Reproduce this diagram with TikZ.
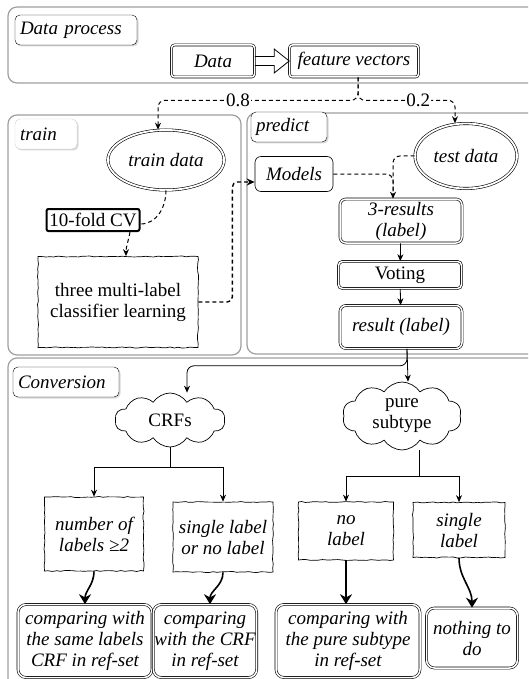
\documentclass[tikz,border=0pt]{standalone}
\usepackage{fontspec}
\setmainfont{Liberation Serif}
\usetikzlibrary{arrows.meta,shapes.geometric,shapes.symbols,shadows,decorations.pathmorphing}
\newcommand{\bigfont}{\fontsize{19}{21}\selectfont}

\begin{document}
\begin{tikzpicture}[x=1pt,y=-1pt,font=\bigfont,
	frame/.style = {draw=gray!75, line width=1.2pt, rounded corners=9pt, fill=white},
	tag/.style = {draw, rounded corners=5pt, fill=white, drop shadow={shadow xshift=1.5pt,shadow yshift=-1.5pt,opacity=.3}, font=\bigfont\itshape, align=left, inner xsep=5pt, minimum height=30pt},
	dbox/.style = {draw, double, double distance=1.5pt, line width=.6pt, rounded corners=6pt, align=center, inner sep=1pt},
	dell/.style = {draw, ellipse, double, double distance=1.8pt, line width=.6pt, font=\bigfont\itshape},
	sketch/.style = {draw, line width=.7pt, decorate, decoration={random steps, segment length=4pt, amplitude=.5pt}, align=center, inner sep=1pt},
	cld/.style = {draw, cloud, cloud puffs=10, cloud puff arc=115, aspect=2, line width=.7pt, align=center, inner sep=0pt},
	it/.style = {font=\bigfont\itshape},
	arr/.style = {line width=.8pt, -{Stealth[length=7pt,width=6pt]}},
	dsh/.style = {line width=1pt, dash pattern=on 4pt off 3pt},
	warr/.style = {line width=1.6pt, -{Stealth[length=10pt,width=12pt]}}]
	\pgfmathsetseed{7}
	\useasboundingbox (0,0) rectangle (528,679);
	\clip (0,0) rectangle (528,679);

	\draw[frame] (8,7) rectangle (560,83);
	\draw[frame] (8,115) rectangle (241,355);
	\draw[frame] (247,113) rectangle (560,354);
	\draw[frame] (8,358) rectangle (560,720);

	\node[tag, text width=112pt] (t1) at (76,30) {Data process};
	\node[tag, draw=gray!35, text width=52pt] (t2) at (46,134) {train};
	\node[tag, text width=66pt] (t3) at (289,127) {predict};
	\node[tag, text width=96pt] (t4) at (66,382) {Conversion};

	\node[dbox, it, rounded corners=3pt, minimum width=83pt, minimum height=32pt] (1) at (213,61) {Data};
	\node[dbox, it, rounded corners=3pt, minimum width=129pt, minimum height=32pt] (2) at (354,61) {feature vectors};
	\node[dell, minimum width=115pt, minimum height=60pt] (3) at (166,160) {train data};
	\node[draw, line width=2pt, rounded corners=2pt, inner sep=1pt, minimum width=93pt, minimum height=22pt] (4) at (93,220) {10-fold CV};
	\node[sketch, minimum width=160pt, minimum height=91pt] (5) at (118,302) {three multi-label\\classifier learning};
	\node[draw, it, line width=.6pt, rounded corners=6pt, minimum width=78pt, minimum height=35pt] (6) at (294,174) {Models};
	\node[dell, minimum width=102pt, minimum height=65pt] (7) at (466,156) {test data};
	\node[dbox, it, minimum width=122pt, minimum height=44pt] (8) at (401,221) {3-results\\(label)};
	\node[dbox, rounded corners=4pt, minimum width=123pt, minimum height=27pt] (9) at (400,275) {Voting};
	\node[dbox, it, minimum width=122pt, minimum height=43pt] (10) at (401,327) {result (label)};
	\node[cld, minimum width=110pt, minimum height=54pt] (11) at (170,420) {CRFs};
	\node[cld, minimum width=119pt, minimum height=68pt] (12) at (402,416) {pure\\subtype};
	\node[sketch, it, minimum width=99pt, minimum height=74pt] (13) at (94,534) {number of\\labels ≥2};
	\node[sketch, it, minimum width=100pt, minimum height=70pt] (14) at (223,537) {single label\\or no label};
	\node[sketch, it, minimum width=95pt, minimum height=58pt] (15) at (346,531) {no\\label};
	\node[sketch, it, minimum width=92pt, minimum height=55pt] (16) at (459,530) {single\\label};
	\node[dbox, it, rounded corners=8pt, minimum width=134pt, minimum height=73pt] (17) at (85,641) {comparing with\\the same labels\\CRF in ref-set};
	\node[dbox, it, rounded corners=8pt, minimum width=99pt, minimum height=73pt] (18) at (205,641) {comparing\\with the CRF\\in ref-set};
	\node[dbox, it, rounded corners=8pt, minimum width=144pt, minimum height=73pt] (19) at (348,641) {comparing with\\the pure subtype\\in ref-set};
	\node[dbox, it, rounded corners=8pt, minimum width=91pt, minimum height=60pt] (20) at (472,638) {nothing to\\do};

	\draw[line width=.8pt, line join=miter] ([yshift=4.5pt]1.east) -- ([xshift=-15pt,yshift=4.5pt]2.west) -- ([xshift=-15pt,yshift=12pt]2.west) -- (2.west) -- ([xshift=-15pt,yshift=-12pt]2.west) -- ([xshift=-15pt,yshift=-4.5pt]2.west) -- ([yshift=-4.5pt]1.east);
	\draw[dsh, -{Stealth[length=7pt,width=6pt]}, rounded corners=7pt] ([xshift=4pt]2.south) -- ++(0,23) -| node[pos=.3, fill=white, inner sep=1pt] {0.8} ([xshift=-8pt]3.north);
	\draw[dsh, -{Stealth[length=7pt,width=6pt]}, rounded corners=7pt] ([xshift=4pt]2.south) -- ++(0,23) -| node[pos=.31, fill=white, inner sep=1pt] {0.2} ([xshift=-11pt]7.north);
	\draw[dsh] (3.south) to[out=-90,in=0] ([yshift=-4pt]4.east);
	\draw[dsh, -{Stealth[length=7pt,width=6pt]}] ([xshift=37pt]4.south) to[out=-100,in=90] ([xshift=8pt]5.north);
	\draw[dsh, line width=1.4pt, -{Stealth[length=8pt,width=7pt]}, rounded corners=5pt] (5.east) -- ++(34,0) |- ([yshift=-8pt]6.west);
	\draw[dsh, rounded corners=7pt] (7.west) -| ([xshift=-8pt]8.north);
	\draw[dsh, -{Stealth[length=7pt,width=6pt]}, rounded corners=7pt] (6.east) -| ([xshift=-8pt]8.north);
	\draw[arr] (8) -- (9);
	\draw[arr] (9) -- (10);
	\draw[arr, rounded corners=7pt] ([xshift=6pt]10.south) -- ++(0,17) -| ([xshift=17pt]11.north);
	\draw[arr] ([xshift=6pt]10.south) -- ([xshift=6pt]12.north);
	\draw[arr] (11.south) -- ++(0,20) -| (13.north);
	\draw[arr] (11.south) -- ++(0,20) -| (14.north);
	\draw[arr] ([xshift=17pt]12.south) -- ++(0,26) -| (15.north);
	\draw[arr] ([xshift=17pt]12.south) -- ++(0,26) -| (16.north);
	\draw[warr] (13.south) to[out=-90,in=90] (17.north);
	\draw[warr] (14.south) to[out=-90,in=90] ([xshift=5pt]18.north);
	\draw[warr] (15.south) -- (15.south |- 19.north);
	\draw[warr] (16.south) to[out=-90,in=90] (20.north);
\end{tikzpicture}
\end{document}
